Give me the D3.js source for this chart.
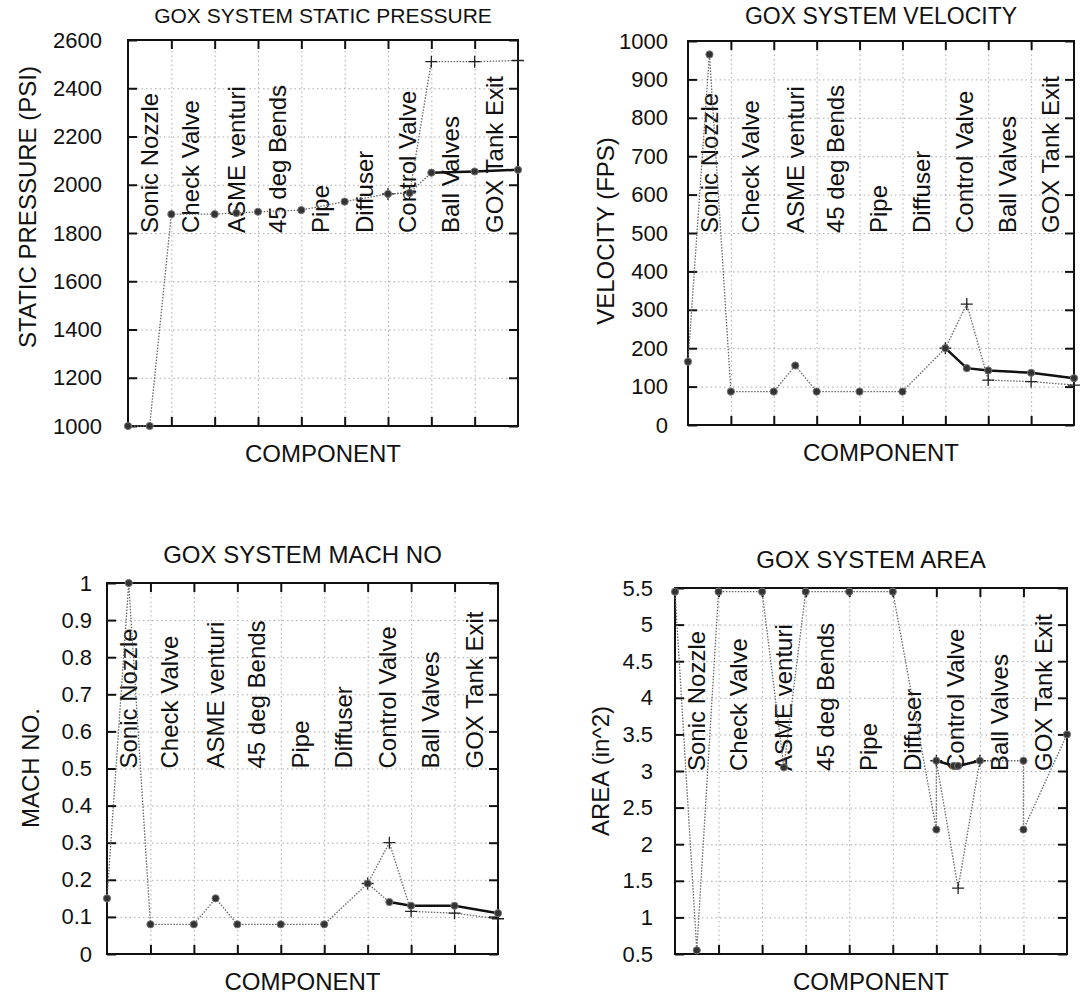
<!DOCTYPE html>
<html>
<head>
<meta charset="utf-8">
<script src="https://cdn.jsdelivr.net/npm/d3@7"></script>
<style>
  body { margin: 0; background: #fff; }
  svg { display: block; font-family: "Liberation Sans", Arial, sans-serif; }
  .grid line { stroke: #aaa; stroke-width: 1; stroke-dasharray: 1.5 3; }
  .grid path { display: none; }
  .frame { fill: none; stroke: #111; stroke-width: 2; }
  .ticks path { display: none; }
  .ticks line { stroke: #111; stroke-width: 2; }
  .dotted { fill: none; stroke: #666; stroke-width: 1.3; stroke-dasharray: 1.5 1.5; }
  .solid { fill: none; stroke: #111; stroke-width: 2.5; }
</style>
</head>
<body>
<svg id="chart" width="1082" height="1002"></svg>
<script>
// Component names written along each plot
const components = ['Sonic Nozzle', 'Check Valve', 'ASME venturi', '45 deg Bends', 'Pipe', 'Diffuser', 'Control Valve', 'Ball Valves', 'GOX Tank Exit'];
const componentX = [0.5, 1.45, 2.5, 3.45, 4.45, 5.45, 6.45, 7.45, 8.45];

// stations along the line, and the branch through the control valve
const stationX = [0, 0.5, 1, 2, 2.5, 3, 4, 5, 6, 6.5, 7, 8, 9];
const branchX = [6, 6.5, 7, 8, 9];

// static pressure (PSI)
const pressure = [1000, 1000, 1878, 1878, 1883, 1888, 1895, 1930, 1962, 1966, 2050, 2055, 2062];
const pressureBranch = [1962, 1966, 2510, 2510, 2515];

// velocity (FPS)
const velocity = [165, 965, 87, 87, 155, 87, 87, 87, 200, 148, 142, 136, 122];
const velocityBranch = [200, 315, 117, 113, 104];

// mach number
const mach = [0.15, 1.0, 0.08, 0.08, 0.15, 0.08, 0.08, 0.08, 0.19, 0.14, 0.13, 0.13, 0.11];
const machBranch = [0.19, 0.30, 0.115, 0.11, 0.095];

// flow area (in^2)
const areaX = [0, 0.5, 1, 2, 2.5, 3, 4, 5, 6, 6, 6.4, 6.5, 7, 8, 8, 9];
const area = [5.45, 0.55, 5.45, 5.45, 3.05, 5.45, 5.45, 5.45, 2.2, 3.14, 3.07, 3.07, 3.14, 3.14, 2.2, 3.5];
const areaBranchX = [6, 6.5, 7];
const areaBranch = [3.14, 1.4, 3.14];

// y tick values
const pressureTicks = d3.range(1000, 2601, 200);
const velocityTicks = d3.range(0, 1001, 100);
const machTicks = d3.range(0, 11).map(i => i / 10);
const areaTicks = d3.range(1, 12).map(i => i / 2);

const panels = [
    {
        title: 'GOX SYSTEM STATIC PRESSURE', ylabel: 'STATIC PRESSURE (PSI)', titleSize: 21, titleGap: 17,
        xs: stationX, ys: pressure, bxs: branchX, bys: pressureBranch,
        ticks: pressureTicks, domain: [1000, 2600], fmt: d => d, labelAt: 1800,
        box: { l: 128, r: 518, t: 40, b: 426 }, pad: 26, ylabelPos: [27, 207], solid: [10, 12]
    },
    {
        title: 'GOX SYSTEM VELOCITY', ylabel: 'VELOCITY (FPS)', titleSize: 23, titleGap: 17,
        xs: stationX, ys: velocity, bxs: branchX, bys: velocityBranch,
        ticks: velocityTicks, domain: [0, 1000], fmt: d => d, labelAt: 500,
        box: { l: 688, r: 1074, t: 41, b: 425 }, pad: 20, ylabelPos: [605, 231], solid: [8, 12]
    },
    {
        title: 'GOX SYSTEM MACH NO', ylabel: 'MACH NO.', titleSize: 24, titleGap: 20,
        xs: stationX, ys: mach, bxs: branchX, bys: machBranch,
        ticks: machTicks, domain: [0, 1], fmt: d => String(+d.toFixed(1)), labelAt: 0.5,
        box: { l: 107, r: 498, t: 583, b: 954 }, pad: 15, ylabelPos: [30, 768], solid: [9, 12]
    },
    {
        title: 'GOX SYSTEM AREA', ylabel: 'AREA (in^2)', titleSize: 24, titleGap: 20,
        xs: areaX, ys: area, bxs: areaBranchX, bys: areaBranch,
        ticks: areaTicks, domain: [0.5, 5.5], fmt: d => String(d), labelAt: 3,
        box: { l: 675, r: 1067, t: 588, b: 954 }, pad: 22, ylabelPos: [600, 771], solid: [9, 12]
    }
];

const svg = d3.select('#chart');

panels.forEach(p => {
    const b = p.box;
    const x = d3.scaleLinear().domain([0, 9]).range([b.l, b.r]);
    const y = d3.scaleLinear().domain(p.domain).range([b.b, b.t]);
    const g = svg.append('g');
    const xTicks = d3.range(1, 9);

    // dotted grid
    g.append('g').attr('class', 'grid')
        .attr('transform', `translate(0,${b.b})`)
        .call(d3.axisBottom(x).tickValues(xTicks).tickSize(-(b.b - b.t)).tickFormat(''));
    g.append('g').attr('class', 'grid')
        .attr('transform', `translate(${b.l},0)`)
        .call(d3.axisLeft(y).tickValues(p.ticks).tickSize(-(b.r - b.l)).tickFormat(''));

    // inward ticks on all four sides
    const left = g.append('g').attr('class', 'ticks')
        .attr('transform', `translate(${b.l},0)`)
        .call(d3.axisLeft(y).tickValues(p.ticks).tickSizeInner(-9).tickSizeOuter(0)
            .tickPadding(p.pad).tickFormat(p.fmt));
    left.selectAll('text').attr('font-size', 22).attr('fill', '#111')
        .attr('font-family', '"Liberation Sans", Arial, sans-serif');
    g.append('g').attr('class', 'ticks')
        .attr('transform', `translate(${b.r},0)`)
        .call(d3.axisRight(y).tickValues(p.ticks).tickSizeInner(-9).tickSizeOuter(0).tickFormat(''));
    g.append('g').attr('class', 'ticks')
        .attr('transform', `translate(0,${b.t})`)
        .call(d3.axisTop(x).tickValues(xTicks).tickSizeInner(-9).tickSizeOuter(0).tickFormat(''));
    g.append('g').attr('class', 'ticks')
        .attr('transform', `translate(0,${b.b})`)
        .call(d3.axisBottom(x).tickValues(xTicks).tickSizeInner(-9).tickSizeOuter(0).tickFormat(''));

    g.append('rect').attr('class', 'frame')
        .attr('x', b.l).attr('y', b.t).attr('width', b.r - b.l).attr('height', b.b - b.t);

    // component names
    g.selectAll('.comp').data(components).join('text')
        .attr('class', 'comp')
        .attr('transform', (d, i) => `translate(${x(componentX[i])},${y(p.labelAt)}) rotate(-90)`)
        .attr('dominant-baseline', 'central')
        .attr('font-size', 24).attr('fill', '#111')
        .text(d => d);

    // series
    const main = p.xs.map((v, i) => [v, p.ys[i]]);
    const branch = p.bxs.map((v, i) => [v, p.bys[i]]);
    const line = d3.line().x(d => x(d[0])).y(d => y(d[1]));

    g.append('path').attr('class', 'dotted').attr('d', line(main));
    g.append('path').attr('class', 'dotted').attr('d', line(branch));
    g.append('path').attr('class', 'solid').attr('d', line(main.slice(p.solid[0], p.solid[1] + 1)));

    g.selectAll('.plus').data(branch).join('path')
        .attr('class', 'plus')
        .attr('transform', d => `translate(${x(d[0])},${y(d[1])})`)
        .attr('d', 'M-6,0H6M0,-6V6')
        .attr('stroke', '#222').attr('stroke-width', 1.3);

    g.selectAll('.dot').data(main).join('circle')
        .attr('class', 'dot')
        .attr('cx', d => x(d[0])).attr('cy', d => y(d[1]))
        .attr('r', 3.6)
        .attr('fill', '#333').attr('stroke', '#777').attr('stroke-width', 1);

    // titles
    g.append('text')
        .attr('x', (b.l + b.r) / 2).attr('y', b.t - p.titleGap)
        .attr('text-anchor', 'middle').attr('font-size', p.titleSize).attr('fill', '#111')
        .text(p.title);
    g.append('text')
        .attr('x', (b.l + b.r) / 2).attr('y', b.b + 36)
        .attr('text-anchor', 'middle').attr('font-size', 24).attr('fill', '#111')
        .text('COMPONENT');
    g.append('text')
        .attr('transform', `translate(${p.ylabelPos[0]},${p.ylabelPos[1]}) rotate(-90)`)
        .attr('text-anchor', 'middle').attr('dominant-baseline', 'central')
        .attr('font-size', 24).attr('fill', '#111')
        .text(p.ylabel);
});
</script>
</body>
</html>
